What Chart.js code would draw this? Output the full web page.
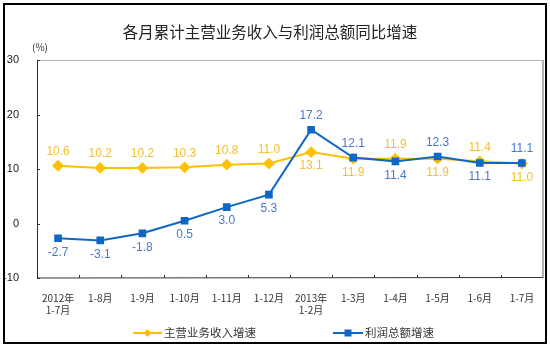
<!DOCTYPE html>
<html>
<head>
<meta charset="utf-8">
<script src="https://cdn.jsdelivr.net/npm/chart.js@4/dist/chart.umd.min.js"></script>
<style>
  html, body { margin: 0; padding: 0; background: #fff; }
  #wrap { width: 550px; height: 349px; }
</style>
</head>
<body>
<div id="wrap"><canvas id="growthChart" width="550" height="349"></canvas></div>
<script>
// Data
const categories = [
  ['2012年', '1-7月'], '1-8月', '1-9月', '1-10月', '1-11月', '1-12月',
  ['2013年', '1-2月'], '1-3月', '1-4月', '1-5月', '1-6月', '1-7月'
];
const revenueGrowth = [10.6, 10.2, 10.2, 10.3, 10.8, 11.0, 13.1, 11.9, 11.9, 11.9, 11.4, 11.0];
const profitGrowth = [-2.7, -3.1, -1.8, 0.5, 3.0, 5.3, 17.2, 12.1, 11.4, 12.3, 11.1, 11.1];
const yTicks = [30, 20, 10, 0, -10];

// label placement: 1 = above the point, -1 = below
const revenueLabelSide = [1, 1, 1, 1, 1, 1, -1, -1, 1, -1, 1, -1];
const profitLabelSide = [-1, -1, -1, -1, -1, -1, 1, 1, -1, 1, -1, 1];

const YELLOW = '#FFC000';
const BLUE = '#0F67C4';
const YELLOW_TXT = '#F6BE2E';
const BLUE_TXT = '#4A78C8';
const NUM_FONT = '"Liberation Sans", Arial, sans-serif';
const CJK_FONT = '"Noto Sans CJK SC", sans-serif';

const decorPlugin = {
  id: 'decor',
  afterDraw(chart) {
    const ctx = chart.ctx;
    const area = chart.chartArea;
    const y = chart.scales.y;
    ctx.save();

    // outer frame
    ctx.strokeStyle = '#000';
    ctx.lineWidth = 2;
    ctx.strokeRect(4, 4, 542, 339);

    // title
    ctx.fillStyle = '#222';
    ctx.font = '15.5px ' + CJK_FONT;
    ctx.textAlign = 'center';
    ctx.textBaseline = 'middle';
    ctx.fillText('各月累计主营业务收入与利润总额同比增速', 270, 32);

    // unit
    ctx.font = '10px ' + CJK_FONT;
    ctx.fillStyle = '#333';
    ctx.fillText('(%)', 40, 47);

    // plot border: grey top/right, dark left/bottom
    ctx.strokeStyle = '#b0b0b0';
    ctx.lineWidth = 1;
    ctx.beginPath();
    ctx.moveTo(area.left, area.top + 0.5);
    ctx.lineTo(area.right - 0.5, area.top + 0.5);
    ctx.stroke();
    ctx.lineWidth = 2;
    ctx.beginPath();
    ctx.moveTo(area.right, area.top);
    ctx.lineTo(area.right, area.bottom);
    ctx.stroke();

    ctx.strokeStyle = '#333';
    ctx.lineWidth = 1;
    ctx.beginPath();
    ctx.moveTo(area.left + 0.5, area.top);
    ctx.lineTo(area.left + 0.5, area.bottom);
    ctx.lineTo(area.right, area.bottom - 0.5);
    ctx.stroke();

    // small inward tick marks
    ctx.beginPath();
    yTicks.forEach(v => {
      const py = Math.round(y.getPixelForValue(v)) + 0.5;
      ctx.moveTo(area.left, py);
      ctx.lineTo(area.left + 3, py);
    });
    const step = (area.right - area.left) / categories.length;
    for (let i = 1; i < categories.length; i++) {
      const px = Math.round(area.left + step * i) + 0.5;
      ctx.moveTo(px, area.bottom);
      ctx.lineTo(px, area.bottom - 3);
    }
    ctx.stroke();

    // value labels
    ctx.font = '12px ' + NUM_FONT;
    ctx.textAlign = 'center';
    const drawLabels = (dsIndex, values, sides, color) => {
      const meta = chart.getDatasetMeta(dsIndex);
      ctx.fillStyle = color;
      meta.data.forEach((pt, i) => {
        const dy = sides[i] > 0 ? -14 : 14;
        ctx.fillText(values[i].toFixed(1), pt.x, pt.y + dy);
      });
    };
    drawLabels(0, revenueGrowth, revenueLabelSide, YELLOW_TXT);
    drawLabels(1, profitGrowth, profitLabelSide, BLUE_TXT);

    // legend
    const legendY = 333;
    const legendItem = (x0, x1, color, marker, text) => {
      ctx.strokeStyle = color;
      ctx.lineWidth = 2;
      ctx.beginPath();
      ctx.moveTo(x0, legendY);
      ctx.lineTo(x1, legendY);
      ctx.stroke();
      ctx.fillStyle = color;
      const mx = (x0 + x1) / 2;
      ctx.beginPath();
      if (marker === 'diamond') {
        ctx.moveTo(mx, legendY - 4);
        ctx.lineTo(mx + 4, legendY);
        ctx.lineTo(mx, legendY + 4);
        ctx.lineTo(mx - 4, legendY);
        ctx.closePath();
      } else {
        ctx.rect(mx - 3.5, legendY - 3.5, 7, 7);
      }
      ctx.fill();
      ctx.fillStyle = '#333';
      ctx.font = '11.5px ' + CJK_FONT;
      ctx.textAlign = 'left';
      ctx.fillText(text, x1 + 2, legendY);
    };
    legendItem(133, 162, YELLOW, 'diamond', '主营业务收入增速');
    legendItem(333, 363, BLUE, 'square', '利润总额增速');

    ctx.restore();
  }
};

new Chart(document.getElementById('growthChart').getContext('2d'), {
  type: 'line',
  data: {
    labels: categories,
    datasets: [{
      label: '主营业务收入增速',
      data: revenueGrowth,
      borderColor: YELLOW,
      backgroundColor: YELLOW,
      borderWidth: 2,
      pointStyle: 'rectRot',
      pointRadius: 4.5,
      pointHoverRadius: 4.5,
      tension: 0,
      order: 2
    }, {
      label: '利润总额增速',
      data: profitGrowth,
      borderColor: BLUE,
      backgroundColor: BLUE,
      borderWidth: 2,
      pointStyle: 'rect',
      pointRadius: 4,
      pointHoverRadius: 4,
      tension: 0,
      order: 1
    }]
  },
  options: {
    responsive: false,
    animation: false,
    events: [],
    layout: { padding: { top: 60, right: 7, bottom: 0, left: 0 } },
    plugins: {
      legend: { display: false },
      title: { display: false },
      tooltip: { enabled: false }
    },
    scales: {
      x: {
        type: 'category',
        offset: true,
        grid: { display: false },
        border: { display: false },
        ticks: {
          color: '#333',
          font: { family: CJK_FONT, size: 10 },
          maxRotation: 0,
          autoSkip: false,
          padding: 6
        },
        afterFit: s => { s.height = 71; }
      },
      y: {
        min: -10,
        max: 30,
        grid: { display: false },
        border: { display: false },
        afterBuildTicks: s => { s.ticks = yTicks.map(v => ({ value: v })); },
        ticks: {
          color: '#222',
          font: { family: NUM_FONT, size: 11 },
          padding: 10
        },
        afterFit: s => { s.width = 37; }
      }
    }
  },
  plugins: [decorPlugin]
});
</script>
</body>
</html>
